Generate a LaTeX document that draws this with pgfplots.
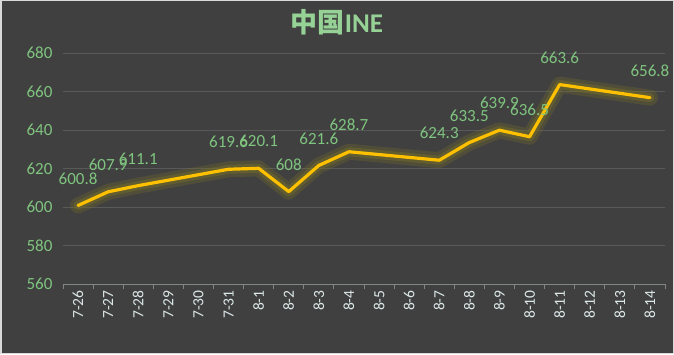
\documentclass[border=0pt]{standalone}
\usepackage{fontspec}
\setmainfont{Carlito}
\newfontfamily\cjk{Noto Sans CJK SC}
\usepackage{pgfplots}
\usepackage{pgfplotstable}
\pgfplotsset{compat=1.18}
\definecolor{bg}{RGB}{64,64,64}
\definecolor{border}{RGB}{217,217,217}
\definecolor{gridc}{RGB}{89,89,89}
\definecolor{axisc}{RGB}{128,135,128}
\definecolor{lblgreen}{RGB}{127,196,127}
\definecolor{titlegreen}{RGB}{150,210,150}
\definecolor{xlbl}{RGB}{220,232,232}
\definecolor{gold}{RGB}{255,192,0}
\definecolor{glow}{RGB}{120,112,40}
\pgfplotstableread{
x y lab
0 600.8 600.8
1 607.9 607.9
2 611.1 611.1
5 619.6 619.6
6 620.1 620.1
7 608 608
8 621.6 621.6
9 628.7 628.7
12 624.3 624.3
13 633.5 633.5
14 639.9 639.9
15 636.5 636.5
16 663.6 663.6
19 656.8 656.8
}\ine
\begin{document}
\begin{tikzpicture}[x=1pt,y=1pt]
\fill[bg] (0,0) rectangle (674,354);
\draw[border, line width=1.5pt] (0.75,0.75) rectangle (673.25,353.25);
\useasboundingbox (0,0) rectangle (674,354);
\node[text=titlegreen, font=\fontsize{27}{31}\selectfont\bfseries] at (337,332) {{\cjk\bfseries 中国}INE};
\begin{axis}[
  at={(63pt,70pt)}, anchor=south west,
  scale only axis, width=602pt, height=231pt,
  xmin=-0.5, xmax=19.5, ymin=560, ymax=680,
  ytick={560,580,...,680},
  xtick={0,...,19},
  xticklabels={7-26,7-27,7-28,7-29,7-30,7-31,8-1,8-2,8-3,8-4,8-5,8-6,8-7,8-8,8-9,8-10,8-11,8-12,8-13,8-14},
  minor xtick={-0.5,0.5,...,19.5},
  major tick length=0pt, minor tick length=5pt,
  tick align=outside,
  minor tick style={axisc, line width=1pt},
  axis x line*=bottom, axis y line*=left,
  x axis line style={axisc, line width=1pt, -},
  y axis line style={draw=none},
  ymajorgrids, major grid style={gridc, line width=1pt},
  /pgf/number format/assume math mode=true,
  yticklabel style={text=lblgreen, font=\fontsize{17}{19}\selectfont, xshift=-7pt},
  xticklabel style={text=xlbl, font=\fontsize{15.5}{17}\selectfont, rotate=90, anchor=east, xshift=-3pt},
  clip=false,
]
\addplot[glow, opacity=0.3, line width=16pt, line join=round, line cap=round] table[x=x,y=y] {\ine};
\addplot[glow, opacity=0.45, line width=9pt, line join=round, line cap=round] table[x=x,y=y] {\ine};
\addplot[gold, line width=3.2pt, line join=round, line cap=round,
  nodes near coords, point meta=explicit symbolic,
  every node near coord/.style={text=lblgreen, font=\fontsize{17}{19}\selectfont, anchor=center, yshift=27pt}]
  table[x=x,y=y,meta=lab] {\ine};
\end{axis}
\end{tikzpicture}
\end{document}
